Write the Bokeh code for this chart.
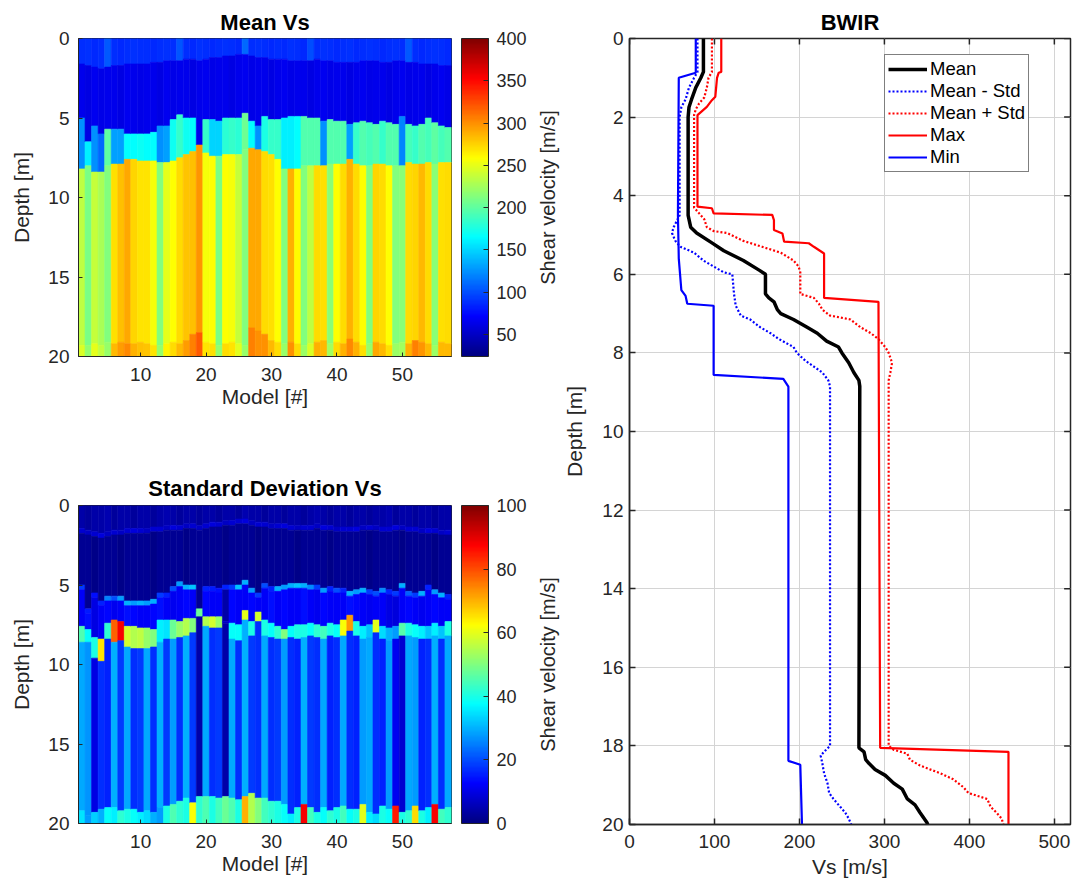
import math
from bokeh.plotting import figure
from bokeh.models import (Range1d, LinearColorMapper, ColorBar, FixedTicker, Legend, LegendItem,
                          ColumnDataSource, Title)
from bokeh.layouts import row, column
from bokeh.transform import linear_cmap
from bokeh.embed import file_html
from bokeh.resources import INLINE

FONT = "Liberation Sans"
TXT = "#262626"

# ---------------- data: Mean Vs per model (layered profiles) ----------------
models = list(range(1, 58))
mean_d1 = [1.6,1.7,1.8,1.9,1.8,1.7,1.7,1.6,1.6,1.6,
           1.6,1.5,1.5,1.4,1.4,1.4,1.3,1.3,1.4,1.3,
           1.2,1.2,1.1,1.1,1.0,1.0,1.1,1.2,1.2,1.3,
           1.3,1.3,1.4,1.4,1.4,1.4,1.3,1.4,1.4,1.5,
           1.5,1.5,1.5,1.4,1.4,1.4,1.5,1.5,1.4,1.4,
           1.5,1.5,1.6,1.6,1.6,1.7,1.7]
mean_v1 = [88,90,86,88,104,88,86,88,90,88,
           88,86,88,90,88,102,88,86,90,88,
           86,88,90,88,86,110,88,90,88,86,
           88,86,90,88,86,100,88,90,88,86,
           88,90,86,88,90,88,86,88,90,88,
           104,88,86,88,90,88,86]
mean_v2 = [64,62,66,63,65,64,62,66,64,63,
           65,64,62,66,63,64,65,62,64,66,
           63,64,65,62,64,66,63,64,65,62,
           64,66,63,64,65,62,64,66,63,64,
           65,62,64,66,63,64,65,62,64,66,
           63,64,65,62,64,66,63]
mean_d2 = [5.0,6.5,5.5,6.0,5.7,5.7,5.7,6.0,6.0,6.0,
           6.0,5.9,5.5,5.5,5.1,4.8,5.0,5.0,6.7,5.1,
           5.1,5.2,5.0,5.0,5.0,4.7,5.2,5.5,4.9,5.1,
           5.1,5.0,4.9,4.9,4.9,5.0,5.0,5.2,5.1,5.2,
           5.2,5.4,5.3,5.2,5.3,5.4,5.2,5.3,5.4,4.9,
           5.4,5.5,5.4,5.0,5.3,5.5,5.6]
mean_v3 = [125,160,125,110,200,130,130,165,165,168,
           165,165,125,130,170,185,170,165,150,185,
           150,150,180,185,180,205,165,125,175,185,
           185,160,160,165,195,195,195,125,195,195,
           195,130,185,195,190,195,185,195,195,120,
           190,185,195,190,200,190,195]
mean_d3 = [8.2,8.0,8.4,8.4,8.0,7.9,7.9,7.6,7.6,7.7,
           7.7,7.7,7.8,7.8,7.7,7.5,7.3,7.1,6.7,7.2,
           7.4,7.4,7.3,7.3,7.3,7.0,6.9,7.0,7.1,7.3,
           7.6,8.2,8.2,8.2,8.0,8.0,8.0,8.0,7.9,7.9,
           7.9,7.6,7.9,8.0,8.0,7.9,7.9,8.0,8.0,8.0,
           7.8,7.9,7.9,7.8,7.9,7.8,7.8]
mean_v4 = [235,210,238,228,212,270,282,290,275,268,
           268,255,212,250,258,272,280,282,298,255,
           258,210,258,255,238,212,290,290,272,270,
           258,212,288,260,212,235,272,270,215,258,
           272,288,272,258,212,275,272,258,212,215,
           272,275,285,272,215,270,272]
mean_d4 = [19.3,19.3,19.2,19.3,19.1,19.2,19.1,19.2,19.2,19.1,
           19.2,19.3,19.3,19.2,19.1,19.2,19.0,18.6,18.5,19.1,
           19.2,19.3,19.2,19.1,19.2,19.3,18.2,18.4,18.6,19.0,
           19.1,19.2,19.1,19.2,19.3,19.2,19.1,19.0,19.2,19.1,
           19.2,18.9,19.1,19.3,19.2,19.1,19.2,19.3,19.2,19.1,
           19.2,19.0,19.1,19.2,19.3,19.1,19.2]
mean_v5 = [245,218,250,236,220,285,295,302,288,282,
           280,268,220,262,272,285,295,305,320,268,
           270,218,272,268,248,220,305,300,300,285,
           272,220,300,272,222,245,288,285,225,272,
           288,302,288,270,220,290,285,270,222,225,
           288,305,298,285,222,285,285]

# ---------------- data: Standard deviation Vs per model ----------------
std_top = [4,3,4,4,5,3,4,4,3,4, 4,3,4,5,4,3,4,4,3,4, 4,3,4,4,3,5,4,4,3,4,
           4,3,4,4,3,4,5,4,3,4, 4,3,4,4,3,4,4,5,3,4, 4,3,4,4,3,4,4]
std_line = [8,7,8,9,7,8,7,8,9,8, 7,8,8,7,9,8,7,8,7,8, 9,8,7,8,8,9,7,8,8,7,
            8,9,8,7,8,8,7,9,8,7, 8,8,9,7,8,7,8,8,9,7, 8,8,7,9,8,7,8]
std_v2 = [2,2,1,2,2,2,1,2,2,2, 2,1,2,2,2,2,1,2,2,2, 2,2,1,2,2,2,2,1,2,2,
          2,2,2,1,2,2,2,2,1,2, 2,2,2,2,1,2,2,2,2,1, 2,2,2,2,1,2,2]
std_band_v = [18,15,14,16,25,20,28,30,28,30, 28,30,18,16,20,28,30,32,26,16,
              15,14,16,18,32,30,28,18,20,16, 30,28,30,32,30,26,18,28,16,20,
              16,30,28,30,18,20,26,16,18,30, 22,18,30,16,28,30,16]
std_mid = [12,14,10,12,13,11,12,14,13,12, 12,13,14,12,11,12,13,12,4,13,
           12,12,4,13,12,12,13,12,12,14, 12,13,12,12,14,12,11,13,12,12,
           12,14,13,12,11,12,12,10,9,12, 13,12,11,12,13,12,12]
std_peak_top = [7.6,7.8,8.3,8.4,7.4,7.2,7.3,7.6,7.6,7.7, 7.7,7.8,7.2,7.2,7.2,7.3,7.1,7.1,6.5,7.0,
                7.0,7.0,7.3,7.4,7.5,6.6,7.3,6.7,7.2,7.4, 7.6,7.8,7.6,7.5,7.5,7.4,7.5,7.6,7.4,7.5,
                7.2,6.9,7.3,7.6,7.5,7.2,7.6,7.7,7.6,7.4, 7.4,7.5,7.6,7.6,7.4,7.6,7.3]
std_peak_bot = [8.6,8.6,9.6,9.8,8.4,8.6,8.5,8.9,9.0,9.0, 9.0,8.9,8.6,8.4,8.4,8.3,8.2,8.0,7.0,7.6,
                7.7,7.7,7.4,8.4,8.5,7.2,8.2,7.3,8.2,8.3, 8.4,8.4,8.3,8.4,8.3,8.2,8.3,8.4,8.2,8.3,
                8.2,7.9,8.2,8.4,8.3,8.0,8.4,8.5,8.4,8.2, 8.2,8.3,8.4,8.4,8.2,8.4,8.2]
std_peak_v = [45,38,40,65,42,78,88,58,55,56, 52,50,36,35,48,52,55,50,48,55,
              58,52,8,38,38,60,40,58,40,38, 42,50,38,40,40,38,42,44,40,38,
              62,72,40,36,32,60,34,30,28,46, 40,38,36,32,36,32,40]
std_body = [29,27,10,17,16,30,18,29,17,18, 29,17,30,18,28,17,30,18,4,29,
            17,18,4,29,17,30,18,17,29,17, 18,28,17,16,30,18,17,29,16,17,
            29,17,16,28,29,17,16,28,11,8, 29,28,16,17,30,17,29]
std_bot_top = [19.2,19.5,19.3,19.1,19.0,19.0,19.2,19.1,19.1,19.3, 19.2,19.3,19.0,18.9,18.8,18.6,18.4,18.7,18.3,18.3,
               18.3,18.4,18.3,18.4,18.5,18.3,18.1,18.4,18.4,18.6, 18.6,18.8,19.4,19.0,18.8,19.0,19.3,19.0,19.2,19.0,
               18.9,19.1,19.1,18.8,19.3,19.4,18.9,19.1,18.9,19.3, 19.2,18.9,19.2,19.0,18.8,19.1,19.0]
std_bot_v = [35,28,33,30,38,36,42,40,38,36, 34,30,28,40,45,42,40,62,42,45,
             40,44,48,45,40,70,55,50,44,42, 40,38,36,40,88,44,40,38,42,40,
             44,38,40,60,36,34,40,38,85,40, 42,66,40,36,88,44,42]

# ---------------- data: BWIR profiles ----------------
mean_depth = [0, 0.85, 1.0, 1.25, 1.55, 1.75, 2.0, 4.5, 4.8, 4.95, 5.2, 5.4, 5.65, 5.9, 6.0, 6.5, 6.6, 6.7, 6.9, 7.0,
              7.15, 7.35, 7.5, 7.7, 7.85, 8.0, 8.25, 8.5, 8.7, 8.85, 18.05, 18.15, 18.35, 18.45, 18.6, 18.75, 18.95,
              19.1, 19.35, 19.5, 19.7, 19.95, 20]
mean_vs = [87, 87, 84, 78, 73, 70, 69, 69, 72, 79, 97, 111, 134, 153, 160, 160, 164, 170, 174, 178,
           193, 209, 221, 232, 246, 250, 258, 264, 270, 271, 270, 276, 278, 282, 289, 301, 311,
           321, 327, 336, 342, 350, 351]
msd_depth = [0, 0.85, 1.0, 1.25, 1.55, 1.75, 2.0, 4.5, 4.8, 4.95, 5.15, 5.3, 5.45, 5.65, 5.8, 5.95, 6.0, 6.5, 6.8, 7.05,
             7.15, 7.35, 7.5, 7.65, 7.85, 8.0, 8.2, 8.35, 8.5, 8.7, 8.85, 18.0, 18.15, 18.25, 18.45, 18.7, 18.95, 19.2,
             19.35, 19.55, 19.7, 19.85, 20]
msd_vs = [80, 80, 76, 70, 66, 61, 59, 59, 52, 50, 54, 60, 76, 87, 99, 111, 121, 123, 125, 131,
          142, 154, 166, 176, 193, 197, 207, 217, 227, 234, 236, 236, 229, 225, 227, 229, 233, 235,
          240, 248, 254, 258, 261]
psd_depth = [0, 0.85, 1.0, 1.25, 1.5, 1.65, 1.8, 1.95, 4.3, 4.45, 4.6, 4.8, 4.9, 4.95, 5.15, 5.3, 5.45, 5.65, 5.8, 5.95,
             6.5, 6.6, 6.75, 6.9, 7.05, 7.15, 7.35, 7.5, 7.65, 7.85, 8.0, 8.25, 8.5, 8.7, 18.0, 18.1, 18.2, 18.35,
             18.5, 18.7, 18.85, 19.05, 19.2, 19.35, 19.55, 19.7, 19.85, 20]
psd_vs = [97, 97, 93, 91, 88, 82, 78, 76, 76, 82, 88, 91, 99, 115, 134, 156, 178, 193, 199, 201,
          201, 217, 223, 227, 236, 260, 272, 284, 293, 301, 305, 309, 307, 305, 305, 311, 327, 330,
          342, 366, 381, 393, 399, 421, 425, 432, 438, 440]
max_depth = [0, 0.85, 0.87, 1.0, 1.48, 1.57, 1.74, 1.95, 4.28, 4.32, 4.45, 4.49, 4.62, 4.87, 4.96, 5.17, 5.21, 5.3,
             5.47, 6.6, 6.7, 18.05, 18.15, 20]
max_vs = [108, 108, 105, 103, 101, 97, 91, 80, 80, 97, 99, 168, 170, 170, 180, 182, 211, 217,
          229, 229, 293, 295, 446, 446]
min_depth = [0, 0.87, 1.0, 4.5, 5.6, 6.4, 6.55, 6.75, 6.8, 8.56, 8.66, 8.86, 18.38, 18.48, 20]
min_vs = [78, 78, 58, 57, 58, 61, 66, 68, 99, 99, 181, 187, 187, 201, 203]

mean_cb_ticks = [50, 100, 150, 200, 250, 300, 350, 400]
std_cb_ticks = [0, 20, 40, 60, 80, 100]
depth_ticks_heat = [0, 5, 10, 15, 20]
model_ticks = [10, 20, 30, 40, 50]
depth_ticks_bwir = [0, 2, 4, 6, 8, 10, 12, 14, 16, 18, 20]
vs_ticks = [0, 100, 200, 300, 400, 500]

VS_MAX = 519          # x-axis limit of the BWIR panel
TICK_DEPTH = 0.15     # inner tick length on the top edge (depth units)
TICK_VS = 7.5         # inner tick length on the right edge (Vs units)


def jet_palette(n=256):
    pal = []
    for k in range(n):
        f = k / (n - 1)
        r = min(max(1.5 - abs(4 * f - 3), 0), 1)
        g = min(max(1.5 - abs(4 * f - 2), 0), 1)
        b = min(max(1.5 - abs(4 * f - 1), 0), 1)
        pal.append("#%02x%02x%02x" % (round(r * 255), round(g * 255), round(b * 255)))
    return pal


JET = jet_palette()


def style_axis(ax, label, tick_standoff, label_standoff, tick_in=5):
    ax.axis_label = label
    ax.axis_label_text_font = FONT
    ax.axis_label_text_font_size = "21px"
    ax.axis_label_text_font_style = "normal"
    ax.axis_label_text_color = TXT
    ax.axis_label_standoff = label_standoff
    ax.major_label_text_font = FONT
    ax.major_label_text_font_size = "19px"
    ax.major_label_text_color = TXT
    ax.major_label_standoff = tick_standoff
    ax.major_tick_in = tick_in
    ax.major_tick_out = 0
    ax.minor_tick_line_color = None
    ax.major_tick_line_color = TXT
    ax.axis_line_color = TXT


def build_source(segments_per_model):
    d = dict(left=[], right=[], top=[], bottom=[], v=[])
    for m, segs in zip(models, segments_per_model):
        for (t, b, val) in segs:
            if b <= t:
                continue
            d["left"].append(m - 0.5)
            d["right"].append(m + 0.5)
            d["top"].append(t)
            d["bottom"].append(b)
            d["v"].append(val)
    return ColumnDataSource(d)


def heat_fig(title, height, top_border, bottom_border, title_standoff, src, low, high, cb_ticks):
    p = figure(width=531, height=height, x_range=Range1d(0.5, 57.5), y_range=Range1d(20, 0),
               output_backend="svg", toolbar_location=None, title=title,
               min_border_left=78, min_border_right=80, min_border_top=top_border,
               min_border_bottom=bottom_border)
    cmap = linear_cmap("v", JET, low, high)
    p.quad(left="left", right="right", top="top", bottom="bottom", source=src,
           fill_color=cmap, line_color=cmap, line_width=0.6)
    p.xaxis.ticker = FixedTicker(ticks=model_ticks)
    p.yaxis.ticker = FixedTicker(ticks=depth_ticks_heat)
    style_axis(p.xaxis[0], "Model [#]", 11, 1, 4)
    style_axis(p.yaxis[0], "Depth [m]", 9, 12, 4)
    p.grid.visible = False
    p.outline_line_color = TXT
    p.outline_line_width = 1
    p.title.text_font = FONT
    p.title.text_font_size = "22px"
    p.title.text_color = "black"
    p.title.align = "center"
    p.title.standoff = title_standoff
    mapper = LinearColorMapper(palette=JET, low=low, high=high)
    cb = ColorBar(color_mapper=mapper, ticker=FixedTicker(ticks=cb_ticks), width=27, height=318,
                  location=(10, 0), padding=0, margin=0, label_standoff=8,
                  major_label_text_font=FONT, major_label_text_font_size="18px",
                  major_label_text_color=TXT, major_tick_in=5, major_tick_out=0,
                  major_tick_line_color=TXT, minor_tick_line_color=None,
                  bar_line_color=TXT, border_line_color=None, background_fill_alpha=0)
    p.add_layout(cb, "right")
    return p


def cb_label_fig(height, top_border, bottom_border, text):
    f = figure(width=29, height=height, x_range=Range1d(0, 1), y_range=Range1d(0, 1),
               x_axis_type=None, y_axis_type=None, output_backend="svg", toolbar_location=None,
               min_border_left=27, min_border_right=0, min_border_top=top_border,
               min_border_bottom=bottom_border)
    f.outline_line_color = None
    f.add_layout(Title(text=text, align="center", text_font=FONT, text_font_size="20px",
                       text_font_style="normal", text_color=TXT, standoff=0), "left")
    return f


# mean Vs heatmap
mean_segs = []
for i in range(57):
    mean_segs.append([(0, mean_d1[i], mean_v1[i]),
                      (mean_d1[i], mean_d2[i], mean_v2[i]),
                      (mean_d2[i], mean_d3[i], mean_v3[i]),
                      (mean_d3[i], mean_d4[i], mean_v4[i]),
                      (mean_d4[i], 20, mean_v5[i])])
p1 = heat_fig("Mean Vs", 448, 38, 92, 8, build_source(mean_segs), 24, 400, mean_cb_ticks)
l1 = cb_label_fig(448, 38, 92, "Shear velocity [m/s]")

# std heatmap
std_segs = []
for i in range(57):
    a, b = mean_d1[i] - 0.15, mean_d1[i] + 0.15
    c = mean_d2[i]
    std_segs.append([(0, a, std_top[i]), (a, b, std_line[i]), (b, c, std_v2[i]),
                     (c, c + 0.3, std_band_v[i]), (c + 0.3, std_peak_top[i], std_mid[i]),
                     (std_peak_top[i], std_peak_bot[i], std_peak_v[i]),
                     (std_peak_bot[i], std_bot_top[i], std_body[i]),
                     (std_bot_top[i], 20, std_bot_v[i])])
p2 = heat_fig("Standard Deviation Vs", 436, 57, 61, 9, build_source(std_segs), 0, 100, std_cb_ticks)
l2 = cb_label_fig(436, 57, 61, "Shear velocity [m/s]")

# BWIR profile panel
p3 = figure(width=512, height=884, x_range=Range1d(0, VS_MAX), y_range=Range1d(20, 0),
            output_backend="svg", toolbar_location=None, title="BWIR",
            min_border_left=69, min_border_right=2, min_border_top=38, min_border_bottom=60)
p3.xaxis.ticker = FixedTicker(ticks=vs_ticks)
p3.yaxis.ticker = FixedTicker(ticks=depth_ticks_bwir)
style_axis(p3.xaxis[0], "Vs [m/s]", 10, 4, 6)
style_axis(p3.yaxis[0], "Depth [m]", 6, 13, 6)
for ax in (p3.xaxis[0], p3.yaxis[0]):
    ax.axis_line_width = 1.5
    ax.major_tick_line_width = 1.5
p3.outline_line_color = TXT
p3.outline_line_width = 1.5
p3.grid.grid_line_color = "#d4d4d4"
p3.grid.grid_line_width = 1
p3.title.text_font = FONT
p3.title.text_font_size = "22px"
p3.title.text_color = "black"
p3.title.align = "center"
p3.title.standoff = 8

# inner tick marks on the top and right edges (box-style axes)
p3.segment(x0=vs_ticks, y0=[0] * len(vs_ticks), x1=vs_ticks, y1=[TICK_DEPTH] * len(vs_ticks),
           line_color=TXT, line_width=1.5)
p3.segment(x0=[VS_MAX] * len(depth_ticks_bwir), y0=depth_ticks_bwir,
           x1=[VS_MAX - TICK_VS] * len(depth_ticks_bwir), y1=depth_ticks_bwir,
           line_color=TXT, line_width=1.5)

r_min = p3.line(min_vs, min_depth, line_color="#0000ff", line_width=2.2)
r_max = p3.line(max_vs, max_depth, line_color="#ff0000", line_width=2.2)
r_psd = p3.line(psd_vs, psd_depth, line_color="#ff0000", line_width=2.2, line_dash="2 2")
r_msd = p3.line(msd_vs, msd_depth, line_color="#0000ff", line_width=2.2, line_dash="2 2")
r_mean = p3.line(mean_vs, mean_depth, line_color="black", line_width=3.5)

legend = Legend(items=[LegendItem(label="Mean", renderers=[r_mean]),
                       LegendItem(label="Mean - Std", renderers=[r_msd]),
                       LegendItem(label="Mean + Std", renderers=[r_psd]),
                       LegendItem(label="Max", renderers=[r_max]),
                       LegendItem(label="Min", renderers=[r_min])],
                location=(255, 652), glyph_width=39, glyph_height=20, label_height=20,
                spacing=0, padding=3, margin=0, label_standoff=3,
                label_text_font=FONT, label_text_font_size="18.5px", label_text_color="black",
                border_line_color="black", border_line_width=1.5,
                background_fill_color="white", background_fill_alpha=1)
p3.add_layout(legend)

layout = row(column(row(p1, l1), row(p2, l2)), p3)
open("out.html", "w").write(file_html(layout, INLINE))
